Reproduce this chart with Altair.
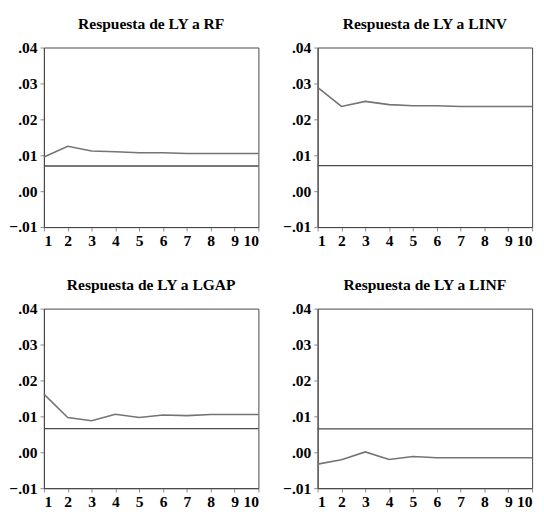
import altair as alt
import pandas as pd

periods = list(range(1, 11))
titles = [
    "Respuesta de LY a RF",
    "Respuesta de LY a LINV",
    "Respuesta de LY a LGAP",
    "Respuesta de LY a LINF",
]
resp_rf = [0.0095, 0.0125, 0.0112, 0.0110, 0.0107, 0.0107, 0.0105, 0.0105, 0.0105, 0.0105]
resp_linv = [0.0289, 0.0236, 0.0250, 0.0241, 0.0238, 0.0238, 0.0236, 0.0236, 0.0236, 0.0236]
resp_lgap = [0.0162, 0.0097, 0.0088, 0.0106, 0.0097, 0.0104, 0.0102, 0.0105, 0.0105, 0.0105]
resp_linf = [-0.0033, -0.0021, 0.0001, -0.0020, -0.0012, -0.0015, -0.0015, -0.0015, -0.0015, -0.0015]
ref_levels = [0.0070, 0.0071, 0.0066, 0.0065]
y_ticks = [-0.01, 0.0, 0.01, 0.02, 0.03, 0.04]

FONT = "Liberation Serif"


def panel(title, values, level):
    df = pd.DataFrame({"period": periods, "resp": values})
    xenc = alt.X(
        "period:Q",
        scale=alt.Scale(domain=[1, 10], nice=False, zero=False),
        axis=alt.Axis(values=periods, title=None, format="d", labelOverlap=False,
                      labelFlush=True, labelPadding=2,
                      minExtent=22, maxExtent=22),
    )
    yaxis = alt.Axis(values=y_ticks, title=None, labelOverlap=False,
                     labelExpr="replace(format(datum.value, '.2f'), '0.', '.')",
                     minExtent=32, maxExtent=32)
    yenc = alt.Y(
        "resp:Q",
        scale=alt.Scale(domain=[-0.01, 0.04], nice=False, zero=False),
        axis=yaxis,
    )
    line = alt.Chart(df).mark_line(color="#747474", strokeWidth=1.6).encode(x=xenc, y=yenc)
    rule = alt.Chart(pd.DataFrame({"resp": [level]})).mark_rule(
        color="#4a4a4a", strokeWidth=1.4
    ).encode(y=alt.Y("resp:Q", axis=yaxis))
    return alt.layer(line, rule).properties(
        width=221, height=185, title=alt.TitleParams(title)
    )


p1 = panel(titles[0], resp_rf, ref_levels[0])
p2 = panel(titles[1], resp_linv, ref_levels[1])
p3 = panel(titles[2], resp_lgap, ref_levels[2])
p4 = panel(titles[3], resp_linf, ref_levels[3])

chart = alt.vconcat(
    alt.hconcat(p1, p2, spacing=20),
    alt.hconcat(p3, p4, spacing=20),
    spacing=28,
).properties(
    padding={"left": 0, "top": 0, "right": 0, "bottom": 0}
).configure_view(
    stroke="#444444", strokeWidth=1
).configure_axis(
    labelFont=FONT, labelFontSize=16, labelFontWeight="bold", labelColor="black",
    domainColor="#444444", tickColor="#888888", tickSize=4, labelPadding=3,
    grid=False, labelOverlap=False,
).configure_title(
    font=FONT, fontSize=16, fontWeight="bold", color="black",
    anchor="middle", offset=8,
)

chart.save("out.html", embed_options={"renderer": "svg", "actions": False})
